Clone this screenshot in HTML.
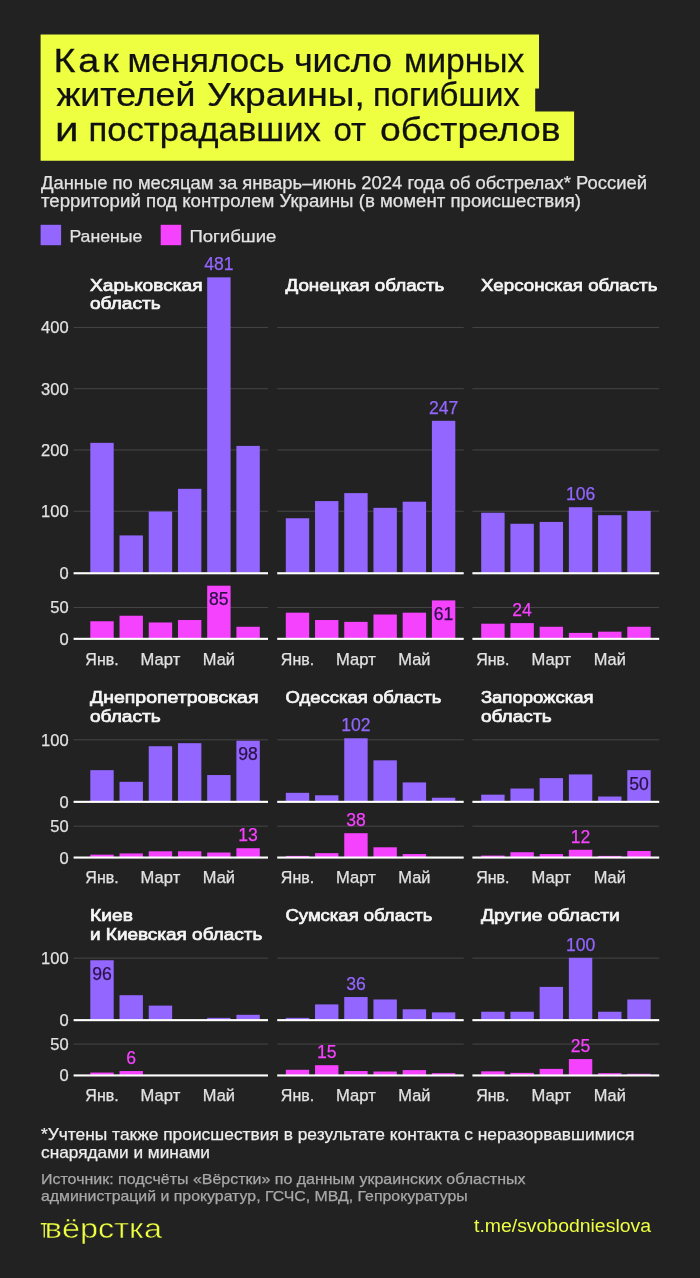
<!DOCTYPE html>
<html lang="ru">
<head>
<meta charset="utf-8">
<title>Как менялось число мирных жителей Украины, погибших и пострадавших от обстрелов</title>
<style>
html,body{margin:0;padding:0;background:#222222;}
body{width:700px;height:1278px;overflow:hidden;}
svg{display:block;font-family:"Liberation Sans", "DejaVu Sans", sans-serif;}
</style>
</head>
<body>
<svg width="700" height="1278" viewBox="0 0 700 1278">
<rect width="700" height="1278" fill="#222222"/>
<path d="M40.6 34.5H539V88.6H535.2V111.6H574.1V160.8H40.6Z" fill="#eeff41"/>
<g font-size="32.5" fill="#111" stroke="#111" stroke-width="0.25">
<text transform="translate(53.6 71.6) scale(1.160 1)" textLength="56.1" lengthAdjust="spacing">Как</text>
<text transform="translate(127.4 71.6) scale(1.073 1)" textLength="146.6" lengthAdjust="spacing">менялось</text>
<text transform="translate(293.9 71.6) scale(1.106 1)" textLength="88.7" lengthAdjust="spacing">число</text>
<text transform="translate(404.0 71.6) scale(1.036 1)" textLength="116.1" lengthAdjust="spacing">мирных</text>
<text transform="translate(56.4 106.4) scale(1.098 1)" textLength="126.6" lengthAdjust="spacing">жителей</text>
<text transform="translate(206.9 106.4) scale(1.144 1)" textLength="138.0" lengthAdjust="spacing">Украины,</text>
<text transform="translate(372.9 106.4) scale(1.015 1)" textLength="144.8" lengthAdjust="spacing">погибших</text>
<text transform="translate(55.1 141.0) scale(1.300 1)" textLength="20.2" lengthAdjust="spacing">и</text>
<text transform="translate(88.4 141.0) scale(1.068 1)" textLength="217.7" lengthAdjust="spacing">пострадавших</text>
<text transform="translate(333.5 141.0) scale(1.017 1)" textLength="32.2" lengthAdjust="spacing">от</text>
<text transform="translate(380.0 141.0) scale(1.148 1)" textLength="157.2" lengthAdjust="spacing">обстрелов</text>
</g>
<text x="41.00" y="189.20" font-size="17.5" fill="#e2e2e2" textLength="606.0" lengthAdjust="spacingAndGlyphs" stroke="#e2e2e2" stroke-width="0.25">Данные по месяцам за январь–июнь 2024 года об обстрелах* Россией</text>
<text x="41.00" y="207.20" font-size="17.5" fill="#e2e2e2" textLength="540.0" lengthAdjust="spacingAndGlyphs" stroke="#e2e2e2" stroke-width="0.25">территорий под контролем Украины (в момент происшествия)</text>
<rect x="40.60" y="224.80" width="20.50" height="20.40" fill="#9366ff"/>
<rect x="160.70" y="224.80" width="20.50" height="20.40" fill="#f542ff"/>
<text x="69.40" y="242.20" font-size="17" fill="#e2e2e2" textLength="73.0" lengthAdjust="spacingAndGlyphs" stroke="#e2e2e2" stroke-width="0.25">Раненые</text>
<text x="189.40" y="242.20" font-size="17" fill="#e2e2e2" textLength="87.0" lengthAdjust="spacingAndGlyphs" stroke="#e2e2e2" stroke-width="0.25">Погибшие</text>
<rect x="73.60" y="510.73" width="194.40" height="1.00" fill="#464646"/>
<rect x="73.60" y="449.46" width="194.40" height="1.00" fill="#464646"/>
<rect x="73.60" y="388.19" width="194.40" height="1.00" fill="#464646"/>
<rect x="73.60" y="326.92" width="194.40" height="1.00" fill="#464646"/>
<rect x="73.60" y="606.96" width="194.40" height="1.00" fill="#464646"/>
<rect x="90.30" y="442.86" width="23.40" height="129.84" fill="#9366ff"/>
<rect x="119.52" y="535.42" width="23.40" height="37.28" fill="#9366ff"/>
<rect x="148.74" y="511.51" width="23.40" height="61.19" fill="#9366ff"/>
<rect x="177.96" y="488.83" width="23.40" height="83.87" fill="#9366ff"/>
<rect x="207.18" y="277.35" width="23.40" height="295.35" fill="#9366ff"/>
<rect x="236.40" y="445.92" width="23.40" height="126.78" fill="#9366ff"/>
<rect x="90.30" y="621.25" width="23.40" height="17.05" fill="#f542ff"/>
<rect x="119.52" y="615.73" width="23.40" height="22.57" fill="#f542ff"/>
<rect x="148.74" y="622.47" width="23.40" height="15.82" fill="#f542ff"/>
<rect x="177.96" y="620.02" width="23.40" height="18.28" fill="#f542ff"/>
<rect x="207.18" y="585.69" width="23.40" height="52.60" fill="#f542ff"/>
<rect x="236.40" y="626.77" width="23.40" height="11.53" fill="#f542ff"/>
<rect x="73.60" y="572.20" width="194.40" height="2.10" fill="#ffffff"/>
<rect x="73.60" y="637.80" width="194.40" height="2.10" fill="#ffffff"/>
<text x="68.60" y="517.23" font-size="16.5" fill="#e2e2e2" text-anchor="end" stroke="#e2e2e2" stroke-width="0.25">100</text>
<text x="68.60" y="455.96" font-size="16.5" fill="#e2e2e2" text-anchor="end" stroke="#e2e2e2" stroke-width="0.25">200</text>
<text x="68.60" y="394.69" font-size="16.5" fill="#e2e2e2" text-anchor="end" stroke="#e2e2e2" stroke-width="0.25">300</text>
<text x="68.60" y="333.42" font-size="16.5" fill="#e2e2e2" text-anchor="end" stroke="#e2e2e2" stroke-width="0.25">400</text>
<text x="68.60" y="579.20" font-size="16.5" fill="#e2e2e2" text-anchor="end" stroke="#e2e2e2" stroke-width="0.25">0</text>
<text x="68.60" y="613.46" font-size="16.5" fill="#e2e2e2" text-anchor="end" stroke="#e2e2e2" stroke-width="0.25">50</text>
<text x="68.60" y="644.80" font-size="16.5" fill="#e2e2e2" text-anchor="end" stroke="#e2e2e2" stroke-width="0.25">0</text>
<text x="85.35" y="664.70" font-size="16.3" fill="#e2e2e2" textLength="33.3" lengthAdjust="spacingAndGlyphs" stroke="#e2e2e2" stroke-width="0.25">Янв.</text>
<text x="140.64" y="664.70" font-size="16.3" fill="#e2e2e2" textLength="39.6" lengthAdjust="spacingAndGlyphs" stroke="#e2e2e2" stroke-width="0.25">Март</text>
<text x="202.83" y="664.70" font-size="16.3" fill="#e2e2e2" textLength="32.1" lengthAdjust="spacingAndGlyphs" stroke="#e2e2e2" stroke-width="0.25">Май</text>
<text x="90.00" y="290.60" font-size="17" fill="#f6f6f6" textLength="112.5" lengthAdjust="spacingAndGlyphs" stroke="#f6f6f6" stroke-width="0.7">Харьковская</text>
<text x="90.00" y="309.10" font-size="17" fill="#f6f6f6" textLength="70.7" lengthAdjust="spacingAndGlyphs" stroke="#f6f6f6" stroke-width="0.7">область</text>
<text x="218.88" y="270.15" font-size="17.6" fill="#9366ff" text-anchor="middle" stroke="#9366ff" stroke-width="0.25">481</text>
<text x="218.88" y="605.29" font-size="17.6" fill="#2a1245" text-anchor="middle" stroke="#2a1245" stroke-width="0.25">85</text>
<rect x="277.20" y="510.73" width="186.50" height="1.00" fill="#464646"/>
<rect x="277.20" y="449.46" width="186.50" height="1.00" fill="#464646"/>
<rect x="277.20" y="388.19" width="186.50" height="1.00" fill="#464646"/>
<rect x="277.20" y="326.92" width="186.50" height="1.00" fill="#464646"/>
<rect x="277.20" y="606.96" width="186.50" height="1.00" fill="#464646"/>
<rect x="285.80" y="518.26" width="23.40" height="54.44" fill="#9366ff"/>
<rect x="315.02" y="501.09" width="23.40" height="71.61" fill="#9366ff"/>
<rect x="344.24" y="493.12" width="23.40" height="79.58" fill="#9366ff"/>
<rect x="373.46" y="507.84" width="23.40" height="64.86" fill="#9366ff"/>
<rect x="402.68" y="501.71" width="23.40" height="71.00" fill="#9366ff"/>
<rect x="431.90" y="420.79" width="23.40" height="151.91" fill="#9366ff"/>
<rect x="285.80" y="612.67" width="23.40" height="25.63" fill="#f542ff"/>
<rect x="315.02" y="620.02" width="23.40" height="18.28" fill="#f542ff"/>
<rect x="344.24" y="621.86" width="23.40" height="16.44" fill="#f542ff"/>
<rect x="373.46" y="614.51" width="23.40" height="23.79" fill="#f542ff"/>
<rect x="402.68" y="612.67" width="23.40" height="25.63" fill="#f542ff"/>
<rect x="431.90" y="600.41" width="23.40" height="37.89" fill="#f542ff"/>
<rect x="277.20" y="572.20" width="186.50" height="2.10" fill="#ffffff"/>
<rect x="277.20" y="637.80" width="186.50" height="2.10" fill="#ffffff"/>
<text x="280.85" y="664.70" font-size="16.3" fill="#e2e2e2" textLength="33.3" lengthAdjust="spacingAndGlyphs" stroke="#e2e2e2" stroke-width="0.25">Янв.</text>
<text x="336.14" y="664.70" font-size="16.3" fill="#e2e2e2" textLength="39.6" lengthAdjust="spacingAndGlyphs" stroke="#e2e2e2" stroke-width="0.25">Март</text>
<text x="398.33" y="664.70" font-size="16.3" fill="#e2e2e2" textLength="32.1" lengthAdjust="spacingAndGlyphs" stroke="#e2e2e2" stroke-width="0.25">Май</text>
<text x="285.50" y="290.60" font-size="17" fill="#f6f6f6" textLength="158.9" lengthAdjust="spacingAndGlyphs" stroke="#f6f6f6" stroke-width="0.7">Донецкая область</text>
<text x="443.60" y="413.59" font-size="17.6" fill="#9366ff" text-anchor="middle" stroke="#9366ff" stroke-width="0.25">247</text>
<text x="443.60" y="620.01" font-size="17.6" fill="#2a1245" text-anchor="middle" stroke="#2a1245" stroke-width="0.25">61</text>
<rect x="472.40" y="510.73" width="186.80" height="1.00" fill="#464646"/>
<rect x="472.40" y="449.46" width="186.80" height="1.00" fill="#464646"/>
<rect x="472.40" y="388.19" width="186.80" height="1.00" fill="#464646"/>
<rect x="472.40" y="326.92" width="186.80" height="1.00" fill="#464646"/>
<rect x="472.40" y="606.96" width="186.80" height="1.00" fill="#464646"/>
<rect x="481.20" y="512.74" width="23.40" height="59.96" fill="#9366ff"/>
<rect x="510.42" y="523.77" width="23.40" height="48.93" fill="#9366ff"/>
<rect x="539.64" y="521.93" width="23.40" height="50.77" fill="#9366ff"/>
<rect x="568.86" y="507.22" width="23.40" height="65.48" fill="#9366ff"/>
<rect x="598.08" y="515.19" width="23.40" height="57.51" fill="#9366ff"/>
<rect x="627.30" y="510.90" width="23.40" height="61.80" fill="#9366ff"/>
<rect x="481.20" y="623.70" width="23.40" height="14.60" fill="#f542ff"/>
<rect x="510.42" y="623.09" width="23.40" height="15.21" fill="#f542ff"/>
<rect x="539.64" y="626.77" width="23.40" height="11.53" fill="#f542ff"/>
<rect x="568.86" y="632.90" width="23.40" height="5.40" fill="#f542ff"/>
<rect x="598.08" y="631.67" width="23.40" height="6.63" fill="#f542ff"/>
<rect x="627.30" y="626.77" width="23.40" height="11.53" fill="#f542ff"/>
<rect x="472.40" y="572.20" width="186.80" height="2.10" fill="#ffffff"/>
<rect x="472.40" y="637.80" width="186.80" height="2.10" fill="#ffffff"/>
<text x="476.25" y="664.70" font-size="16.3" fill="#e2e2e2" textLength="33.3" lengthAdjust="spacingAndGlyphs" stroke="#e2e2e2" stroke-width="0.25">Янв.</text>
<text x="531.54" y="664.70" font-size="16.3" fill="#e2e2e2" textLength="39.6" lengthAdjust="spacingAndGlyphs" stroke="#e2e2e2" stroke-width="0.25">Март</text>
<text x="593.73" y="664.70" font-size="16.3" fill="#e2e2e2" textLength="32.1" lengthAdjust="spacingAndGlyphs" stroke="#e2e2e2" stroke-width="0.25">Май</text>
<text x="480.90" y="290.60" font-size="17" fill="#f6f6f6" textLength="176.5" lengthAdjust="spacingAndGlyphs" stroke="#f6f6f6" stroke-width="0.7">Херсонская область</text>
<text x="580.56" y="500.02" font-size="17.6" fill="#9366ff" text-anchor="middle" stroke="#9366ff" stroke-width="0.25">106</text>
<text x="522.12" y="615.89" font-size="17.6" fill="#f542ff" text-anchor="middle" stroke="#f542ff" stroke-width="0.25">24</text>
<rect x="73.60" y="739.33" width="194.40" height="1.00" fill="#464646"/>
<rect x="73.60" y="825.66" width="194.40" height="1.00" fill="#464646"/>
<rect x="90.30" y="770.15" width="23.40" height="31.15" fill="#9366ff"/>
<rect x="119.52" y="781.80" width="23.40" height="19.50" fill="#9366ff"/>
<rect x="148.74" y="746.24" width="23.40" height="55.06" fill="#9366ff"/>
<rect x="177.96" y="743.18" width="23.40" height="58.12" fill="#9366ff"/>
<rect x="207.18" y="775.05" width="23.40" height="26.25" fill="#9366ff"/>
<rect x="236.40" y="740.73" width="23.40" height="60.57" fill="#9366ff"/>
<rect x="90.30" y="854.66" width="23.40" height="2.34" fill="#f542ff"/>
<rect x="119.52" y="853.43" width="23.40" height="3.56" fill="#f542ff"/>
<rect x="148.74" y="851.29" width="23.40" height="5.71" fill="#f542ff"/>
<rect x="177.96" y="851.29" width="23.40" height="5.71" fill="#f542ff"/>
<rect x="207.18" y="852.52" width="23.40" height="4.48" fill="#f542ff"/>
<rect x="236.40" y="848.22" width="23.40" height="8.78" fill="#f542ff"/>
<rect x="73.60" y="800.80" width="194.40" height="2.10" fill="#ffffff"/>
<rect x="73.60" y="856.50" width="194.40" height="2.10" fill="#ffffff"/>
<text x="68.60" y="745.83" font-size="16.5" fill="#e2e2e2" text-anchor="end" stroke="#e2e2e2" stroke-width="0.25">100</text>
<text x="68.60" y="807.80" font-size="16.5" fill="#e2e2e2" text-anchor="end" stroke="#e2e2e2" stroke-width="0.25">0</text>
<text x="68.60" y="832.16" font-size="16.5" fill="#e2e2e2" text-anchor="end" stroke="#e2e2e2" stroke-width="0.25">50</text>
<text x="68.60" y="863.50" font-size="16.5" fill="#e2e2e2" text-anchor="end" stroke="#e2e2e2" stroke-width="0.25">0</text>
<text x="85.35" y="883.00" font-size="16.3" fill="#e2e2e2" textLength="33.3" lengthAdjust="spacingAndGlyphs" stroke="#e2e2e2" stroke-width="0.25">Янв.</text>
<text x="140.64" y="883.00" font-size="16.3" fill="#e2e2e2" textLength="39.6" lengthAdjust="spacingAndGlyphs" stroke="#e2e2e2" stroke-width="0.25">Март</text>
<text x="202.83" y="883.00" font-size="16.3" fill="#e2e2e2" textLength="32.1" lengthAdjust="spacingAndGlyphs" stroke="#e2e2e2" stroke-width="0.25">Май</text>
<text x="90.00" y="703.30" font-size="17" fill="#f6f6f6" textLength="168.5" lengthAdjust="spacingAndGlyphs" stroke="#f6f6f6" stroke-width="0.7">Днепропетровская</text>
<text x="90.00" y="721.50" font-size="17" fill="#f6f6f6" textLength="70.7" lengthAdjust="spacingAndGlyphs" stroke="#f6f6f6" stroke-width="0.7">область</text>
<text x="248.10" y="760.33" font-size="17.6" fill="#2a1245" text-anchor="middle" stroke="#2a1245" stroke-width="0.25">98</text>
<text x="248.10" y="841.02" font-size="17.6" fill="#f542ff" text-anchor="middle" stroke="#f542ff" stroke-width="0.25">13</text>
<rect x="277.20" y="739.33" width="186.50" height="1.00" fill="#464646"/>
<rect x="277.20" y="825.66" width="186.50" height="1.00" fill="#464646"/>
<rect x="285.80" y="792.83" width="23.40" height="8.47" fill="#9366ff"/>
<rect x="315.02" y="795.28" width="23.40" height="6.02" fill="#9366ff"/>
<rect x="344.24" y="738.27" width="23.40" height="63.03" fill="#9366ff"/>
<rect x="373.46" y="760.34" width="23.40" height="40.96" fill="#9366ff"/>
<rect x="402.68" y="782.41" width="23.40" height="18.89" fill="#9366ff"/>
<rect x="431.90" y="797.73" width="23.40" height="3.56" fill="#9366ff"/>
<rect x="285.80" y="855.89" width="23.40" height="1.11" fill="#f542ff"/>
<rect x="315.02" y="853.13" width="23.40" height="3.87" fill="#f542ff"/>
<rect x="344.24" y="833.21" width="23.40" height="23.79" fill="#f542ff"/>
<rect x="373.46" y="847.30" width="23.40" height="9.70" fill="#f542ff"/>
<rect x="402.68" y="854.05" width="23.40" height="2.95" fill="#f542ff"/>
<rect x="277.20" y="800.80" width="186.50" height="2.10" fill="#ffffff"/>
<rect x="277.20" y="856.50" width="186.50" height="2.10" fill="#ffffff"/>
<text x="280.85" y="883.00" font-size="16.3" fill="#e2e2e2" textLength="33.3" lengthAdjust="spacingAndGlyphs" stroke="#e2e2e2" stroke-width="0.25">Янв.</text>
<text x="336.14" y="883.00" font-size="16.3" fill="#e2e2e2" textLength="39.6" lengthAdjust="spacingAndGlyphs" stroke="#e2e2e2" stroke-width="0.25">Март</text>
<text x="398.33" y="883.00" font-size="16.3" fill="#e2e2e2" textLength="32.1" lengthAdjust="spacingAndGlyphs" stroke="#e2e2e2" stroke-width="0.25">Май</text>
<text x="285.50" y="703.30" font-size="17" fill="#f6f6f6" textLength="155.8" lengthAdjust="spacingAndGlyphs" stroke="#f6f6f6" stroke-width="0.7">Одесская область</text>
<text x="355.94" y="731.07" font-size="17.6" fill="#9366ff" text-anchor="middle" stroke="#9366ff" stroke-width="0.25">102</text>
<text x="355.94" y="826.01" font-size="17.6" fill="#f542ff" text-anchor="middle" stroke="#f542ff" stroke-width="0.25">38</text>
<rect x="472.40" y="739.33" width="186.80" height="1.00" fill="#464646"/>
<rect x="472.40" y="825.66" width="186.80" height="1.00" fill="#464646"/>
<rect x="481.20" y="794.67" width="23.40" height="6.63" fill="#9366ff"/>
<rect x="510.42" y="788.54" width="23.40" height="12.76" fill="#9366ff"/>
<rect x="539.64" y="778.12" width="23.40" height="23.18" fill="#9366ff"/>
<rect x="568.86" y="774.44" width="23.40" height="26.86" fill="#9366ff"/>
<rect x="598.08" y="796.51" width="23.40" height="4.79" fill="#9366ff"/>
<rect x="627.30" y="770.15" width="23.40" height="31.15" fill="#9366ff"/>
<rect x="481.20" y="855.58" width="23.40" height="1.42" fill="#f542ff"/>
<rect x="510.42" y="852.21" width="23.40" height="4.79" fill="#f542ff"/>
<rect x="539.64" y="854.05" width="23.40" height="2.95" fill="#f542ff"/>
<rect x="568.86" y="849.76" width="23.40" height="7.24" fill="#f542ff"/>
<rect x="598.08" y="855.89" width="23.40" height="1.11" fill="#f542ff"/>
<rect x="627.30" y="850.98" width="23.40" height="6.02" fill="#f542ff"/>
<rect x="472.40" y="800.80" width="186.80" height="2.10" fill="#ffffff"/>
<rect x="472.40" y="856.50" width="186.80" height="2.10" fill="#ffffff"/>
<text x="476.25" y="883.00" font-size="16.3" fill="#e2e2e2" textLength="33.3" lengthAdjust="spacingAndGlyphs" stroke="#e2e2e2" stroke-width="0.25">Янв.</text>
<text x="531.54" y="883.00" font-size="16.3" fill="#e2e2e2" textLength="39.6" lengthAdjust="spacingAndGlyphs" stroke="#e2e2e2" stroke-width="0.25">Март</text>
<text x="593.73" y="883.00" font-size="16.3" fill="#e2e2e2" textLength="32.1" lengthAdjust="spacingAndGlyphs" stroke="#e2e2e2" stroke-width="0.25">Май</text>
<text x="480.90" y="703.30" font-size="17" fill="#f6f6f6" textLength="112.6" lengthAdjust="spacingAndGlyphs" stroke="#f6f6f6" stroke-width="0.7">Запорожская</text>
<text x="480.90" y="721.50" font-size="17" fill="#f6f6f6" textLength="70.7" lengthAdjust="spacingAndGlyphs" stroke="#f6f6f6" stroke-width="0.7">область</text>
<text x="639.00" y="789.75" font-size="17.6" fill="#2a1245" text-anchor="middle" stroke="#2a1245" stroke-width="0.25">50</text>
<text x="580.56" y="842.56" font-size="17.6" fill="#f542ff" text-anchor="middle" stroke="#f542ff" stroke-width="0.25">12</text>
<rect x="73.60" y="957.63" width="194.40" height="1.00" fill="#464646"/>
<rect x="73.60" y="1043.57" width="194.40" height="1.00" fill="#464646"/>
<rect x="90.30" y="960.25" width="23.40" height="59.35" fill="#9366ff"/>
<rect x="119.52" y="995.19" width="23.40" height="24.41" fill="#9366ff"/>
<rect x="148.74" y="1005.61" width="23.40" height="13.99" fill="#9366ff"/>
<rect x="207.18" y="1017.87" width="23.40" height="1.73" fill="#9366ff"/>
<rect x="236.40" y="1014.81" width="23.40" height="4.79" fill="#9366ff"/>
<rect x="90.30" y="1072.56" width="23.40" height="2.34" fill="#f542ff"/>
<rect x="119.52" y="1071.03" width="23.40" height="3.87" fill="#f542ff"/>
<rect x="73.60" y="1019.10" width="194.40" height="2.10" fill="#ffffff"/>
<rect x="73.60" y="1074.40" width="194.40" height="2.10" fill="#ffffff"/>
<text x="68.60" y="964.13" font-size="16.5" fill="#e2e2e2" text-anchor="end" stroke="#e2e2e2" stroke-width="0.25">100</text>
<text x="68.60" y="1026.10" font-size="16.5" fill="#e2e2e2" text-anchor="end" stroke="#e2e2e2" stroke-width="0.25">0</text>
<text x="68.60" y="1050.07" font-size="16.5" fill="#e2e2e2" text-anchor="end" stroke="#e2e2e2" stroke-width="0.25">50</text>
<text x="68.60" y="1081.40" font-size="16.5" fill="#e2e2e2" text-anchor="end" stroke="#e2e2e2" stroke-width="0.25">0</text>
<text x="85.35" y="1101.00" font-size="16.3" fill="#e2e2e2" textLength="33.3" lengthAdjust="spacingAndGlyphs" stroke="#e2e2e2" stroke-width="0.25">Янв.</text>
<text x="140.64" y="1101.00" font-size="16.3" fill="#e2e2e2" textLength="39.6" lengthAdjust="spacingAndGlyphs" stroke="#e2e2e2" stroke-width="0.25">Март</text>
<text x="202.83" y="1101.00" font-size="16.3" fill="#e2e2e2" textLength="32.1" lengthAdjust="spacingAndGlyphs" stroke="#e2e2e2" stroke-width="0.25">Май</text>
<text x="90.00" y="921.20" font-size="17" fill="#f6f6f6" textLength="42.9" lengthAdjust="spacingAndGlyphs" stroke="#f6f6f6" stroke-width="0.7">Киев</text>
<text x="90.00" y="940.20" font-size="17" fill="#f6f6f6" textLength="172.3" lengthAdjust="spacingAndGlyphs" stroke="#f6f6f6" stroke-width="0.7">и Киевская область</text>
<text x="102.00" y="979.85" font-size="17.6" fill="#2a1245" text-anchor="middle" stroke="#2a1245" stroke-width="0.25">96</text>
<text x="131.22" y="1063.83" font-size="17.6" fill="#f542ff" text-anchor="middle" stroke="#f542ff" stroke-width="0.25">6</text>
<rect x="277.20" y="957.63" width="186.50" height="1.00" fill="#464646"/>
<rect x="277.20" y="1043.57" width="186.50" height="1.00" fill="#464646"/>
<rect x="285.80" y="1017.87" width="23.40" height="1.73" fill="#9366ff"/>
<rect x="315.02" y="1004.39" width="23.40" height="15.21" fill="#9366ff"/>
<rect x="344.24" y="997.03" width="23.40" height="22.57" fill="#9366ff"/>
<rect x="373.46" y="999.48" width="23.40" height="20.12" fill="#9366ff"/>
<rect x="402.68" y="1009.29" width="23.40" height="10.31" fill="#9366ff"/>
<rect x="431.90" y="1012.36" width="23.40" height="7.24" fill="#9366ff"/>
<rect x="285.80" y="1069.80" width="23.40" height="5.10" fill="#f542ff"/>
<rect x="315.02" y="1065.21" width="23.40" height="9.70" fill="#f542ff"/>
<rect x="344.24" y="1071.03" width="23.40" height="3.87" fill="#f542ff"/>
<rect x="373.46" y="1071.52" width="23.40" height="3.38" fill="#f542ff"/>
<rect x="402.68" y="1070.11" width="23.40" height="4.79" fill="#f542ff"/>
<rect x="431.90" y="1073.17" width="23.40" height="1.73" fill="#f542ff"/>
<rect x="277.20" y="1019.10" width="186.50" height="2.10" fill="#ffffff"/>
<rect x="277.20" y="1074.40" width="186.50" height="2.10" fill="#ffffff"/>
<text x="280.85" y="1101.00" font-size="16.3" fill="#e2e2e2" textLength="33.3" lengthAdjust="spacingAndGlyphs" stroke="#e2e2e2" stroke-width="0.25">Янв.</text>
<text x="336.14" y="1101.00" font-size="16.3" fill="#e2e2e2" textLength="39.6" lengthAdjust="spacingAndGlyphs" stroke="#e2e2e2" stroke-width="0.25">Март</text>
<text x="398.33" y="1101.00" font-size="16.3" fill="#e2e2e2" textLength="32.1" lengthAdjust="spacingAndGlyphs" stroke="#e2e2e2" stroke-width="0.25">Май</text>
<text x="285.50" y="921.20" font-size="17" fill="#f6f6f6" textLength="146.8" lengthAdjust="spacingAndGlyphs" stroke="#f6f6f6" stroke-width="0.7">Сумская область</text>
<text x="355.94" y="989.83" font-size="17.6" fill="#9366ff" text-anchor="middle" stroke="#9366ff" stroke-width="0.25">36</text>
<text x="326.72" y="1058.01" font-size="17.6" fill="#f542ff" text-anchor="middle" stroke="#f542ff" stroke-width="0.25">15</text>
<rect x="472.40" y="957.63" width="186.80" height="1.00" fill="#464646"/>
<rect x="472.40" y="1043.57" width="186.80" height="1.00" fill="#464646"/>
<rect x="481.20" y="1011.74" width="23.40" height="7.86" fill="#9366ff"/>
<rect x="510.42" y="1011.74" width="23.40" height="7.86" fill="#9366ff"/>
<rect x="539.64" y="986.92" width="23.40" height="32.68" fill="#9366ff"/>
<rect x="568.86" y="957.80" width="23.40" height="61.80" fill="#9366ff"/>
<rect x="598.08" y="1011.74" width="23.40" height="7.86" fill="#9366ff"/>
<rect x="627.30" y="999.48" width="23.40" height="20.12" fill="#9366ff"/>
<rect x="481.20" y="1071.34" width="23.40" height="3.56" fill="#f542ff"/>
<rect x="510.42" y="1072.87" width="23.40" height="2.03" fill="#f542ff"/>
<rect x="539.64" y="1068.88" width="23.40" height="6.02" fill="#f542ff"/>
<rect x="568.86" y="1059.08" width="23.40" height="15.82" fill="#f542ff"/>
<rect x="598.08" y="1073.17" width="23.40" height="1.73" fill="#f542ff"/>
<rect x="627.30" y="1073.79" width="23.40" height="1.11" fill="#f542ff"/>
<rect x="472.40" y="1019.10" width="186.80" height="2.10" fill="#ffffff"/>
<rect x="472.40" y="1074.40" width="186.80" height="2.10" fill="#ffffff"/>
<text x="476.25" y="1101.00" font-size="16.3" fill="#e2e2e2" textLength="33.3" lengthAdjust="spacingAndGlyphs" stroke="#e2e2e2" stroke-width="0.25">Янв.</text>
<text x="531.54" y="1101.00" font-size="16.3" fill="#e2e2e2" textLength="39.6" lengthAdjust="spacingAndGlyphs" stroke="#e2e2e2" stroke-width="0.25">Март</text>
<text x="593.73" y="1101.00" font-size="16.3" fill="#e2e2e2" textLength="32.1" lengthAdjust="spacingAndGlyphs" stroke="#e2e2e2" stroke-width="0.25">Май</text>
<text x="480.90" y="921.20" font-size="17" fill="#f6f6f6" textLength="138.9" lengthAdjust="spacingAndGlyphs" stroke="#f6f6f6" stroke-width="0.7">Другие области</text>
<text x="580.56" y="950.60" font-size="17.6" fill="#9366ff" text-anchor="middle" stroke="#9366ff" stroke-width="0.25">100</text>
<text x="580.56" y="1051.88" font-size="17.6" fill="#f542ff" text-anchor="middle" stroke="#f542ff" stroke-width="0.25">25</text>
<text x="41.00" y="1139.90" font-size="17" fill="#eeeeee" textLength="593.4" lengthAdjust="spacingAndGlyphs" stroke="#eeeeee" stroke-width="0.25">*Учтены также происшествия в результате контакта с неразорвавшимися</text>
<text x="41.00" y="1157.90" font-size="17" fill="#eeeeee" textLength="169.0" lengthAdjust="spacingAndGlyphs" stroke="#eeeeee" stroke-width="0.25">снарядами и минами</text>
<text x="41.00" y="1184.40" font-size="15" fill="#a8a8a8" textLength="484.5" lengthAdjust="spacingAndGlyphs" stroke="#a8a8a8" stroke-width="0.25">Источник: подсчёты «Вёрстки» по данным украинских областных</text>
<text x="41.00" y="1200.70" font-size="15" fill="#a8a8a8" textLength="426.7" lengthAdjust="spacingAndGlyphs" stroke="#a8a8a8" stroke-width="0.25">администраций и прокуратур, ГСЧС, МВД, Гепрокуратуры</text>
<path d="M40.8 1222.9H47V1224.4H44.9V1237.5H43.6V1224.4H40.8Z" fill="#eeff41"/>
<text x="44.80" y="1237.50" font-size="27.5" fill="#eeff41" textLength="117.2" lengthAdjust="spacingAndGlyphs" stroke="#222222" stroke-width="0.45">вёрстка</text>
<text x="474.00" y="1232.30" font-size="18" fill="#eeff41" textLength="177.0" lengthAdjust="spacingAndGlyphs">t.me/svobodnieslova</text>
</svg>
</body>
</html>
